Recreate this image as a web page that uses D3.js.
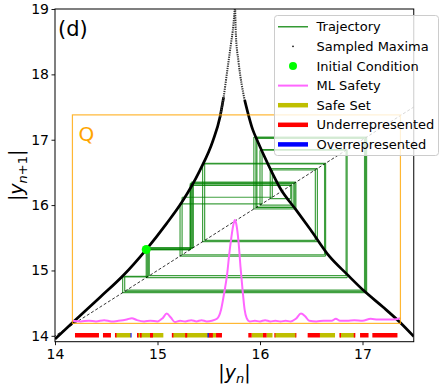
<!DOCTYPE html>
<html>
<head>
<meta charset="utf-8">
<script src="https://cdn.jsdelivr.net/npm/d3@7"></script>
<style>
  body { margin: 0; background: #fff; }
  svg { font-family: "DejaVu Sans", sans-serif; }
</style>
</head>
<body>
<div id="chart"></div>
<script>
// sampled maxima as (|y_n|, |y_n+1|)
const leftBranch = [[14.0,13.95],[14.17,14.2],[14.44,14.59],[14.67,14.93],[14.89,15.32],[15.09,15.72],[15.24,16.05],[15.41,16.52],[15.54,16.98],[15.61,17.35],[15.645,17.65],[15.68,18.05],[15.715,18.45],[15.74,18.75],[15.756,19.05]]
const rightBranch = [[15.757,19.05],[15.765,18.6],[15.79,18.2],[15.85,17.61],[15.93,17.15],[15.97,17.0],[16.08,16.62],[16.2,16.25],[16.35,15.93],[16.49,15.63],[16.68,15.21],[16.85,14.94],[17.02,14.68],[17.2,14.44],[17.37,14.2],[17.5,13.99]]

// trajectory iterates |y_0|, |y_1|, ...
const trajectory = [14.89, 15.32, 16.33, 15.97, 17.03, 14.68, 14.91, 15.34, 16.30, 16.10, 16.56, 15.44, 16.63, 15.24, 16.12, 16.54, 15.46, 16.64, 15.22, 16.02, 16.85, 14.89, 15.33, 16.35, 15.94, 17.04, 14.66, 14.90, 15.32, 16.31, 16.00, 16.84, 14.92, 15.35, 16.34, 15.96, 17.02, 14.70]
const initialCondition = [14.89, 15.32]

// ML safety curve
const mlX = [14.17,14.25,14.33,14.40,14.48,14.55,14.62,14.70,14.75,14.80,14.87,14.93,15.00,15.05,15.09,15.13,15.17,15.22,15.27,15.33,15.38,15.43,15.48,15.53,15.58,15.62,15.65,15.68,15.70,15.72,15.74,15.755,15.77,15.79,15.81,15.83,15.85,15.87,15.90,15.95,16.00,16.05,16.10,16.15,16.20,16.25,16.30,16.35,16.40,16.44,16.48,16.55,16.62,16.70,16.74,16.78,16.85,16.92,17.00,17.08,17.15,17.22,17.30,17.37]
const mlY = [14.23,14.22,14.23,14.22,14.24,14.22,14.23,14.25,14.27,14.24,14.22,14.23,14.22,14.27,14.34,14.28,14.21,14.23,14.22,14.24,14.22,14.24,14.22,14.23,14.26,14.40,14.65,14.95,15.25,15.50,15.70,15.77,15.70,15.45,15.05,14.70,14.40,14.27,14.22,14.23,14.22,14.24,14.22,14.23,14.22,14.23,14.22,14.26,14.34,14.30,14.23,14.22,14.23,14.23,14.26,14.23,14.23,14.24,14.23,14.26,14.25,14.25,14.25,14.27]

// interval bars drawn at |y_n+1| = 14
const safeSet = [[14.595,14.741],[14.807,15.057],[15.148,15.571],[15.919,16.029],[16.065,16.122],[16.146,16.351],[16.585,16.732],[16.78,16.927]]
const underRep = [[14.195,14.429],[14.468,14.546],[14.585,14.60],[14.80,14.815],[14.83,14.845],[14.927,14.956],[15.14,15.155],[15.27,15.29],[15.50,15.54],[15.571,15.629],[15.886,15.919],[16.029,16.065],[16.14,16.15],[16.345,16.355],[16.465,16.585],[16.775,16.79],[16.915,16.93],[16.976,17.059],[17.096,17.341]]
const overRep = [[14.737,14.747],[15.488,15.50]]
const barLevel = 14.01

const qBox = [14.17, 17.37, 14.19, 17.38]
const xTicks = [14, 15, 16, 17]
const yTicks = [14, 15, 16, 17, 18, 19]

const width = 440
const height = 392
const margin = {top: 9, right: 26.25, bottom: 50.3, left: 55}
const innerW = width - margin.left - margin.right
const innerH = height - margin.top - margin.bottom

const xScale = d3.scaleLinear().domain([14, 17.5]).range([0, innerW])
const yScale = d3.scaleLinear().domain([13.91, 19]).range([innerH, 0])

const svg = d3.select("#chart")
  .append("svg")
    .attr("width", width)
    .attr("height", height)

const g = svg.append("g")
    .attr("transform", "translate(" + margin.left + "," + margin.top + ")")

g.append("defs").append("clipPath")
    .attr("id", "clip")
  .append("rect")
    .attr("width", innerW)
    .attr("height", innerH)

const plot = g.append("g").attr("clip-path", "url(#clip)")

const line = d3.line().x(d => xScale(d[0])).y(d => yScale(d[1]))
const smooth = d3.line().curve(d3.curveMonotoneX).x(d => xScale(d[0])).y(d => yScale(d[1]))

// cobweb segments from the trajectory
const cobweb = []
for (let i = 0; i < trajectory.length - 1; i++) {
  const a = trajectory[i], b = trajectory[i + 1]
  if (i > 0) cobweb.push([[a, a], [a, b]])
  cobweb.push([[a, b], [b, b]])
}
plot.selectAll(".traj")
  .data(cobweb)
  .enter().append("path")
    .attr("class", "traj")
    .attr("d", line)
    .attr("fill", "none")
    .attr("stroke", "green")
    .attr("stroke-opacity", 0.75)
    .attr("stroke-width", 1.2)

// sampled maxima: dense lower part, sparse near the cusp
const split = 17.3
;[leftBranch, rightBranch].forEach(br => {
  plot.append("path")
    .attr("d", smooth(br.filter(d => d[1] <= split + 0.4)))
    .attr("fill", "none")
    .attr("stroke", "black")
    .attr("stroke-width", 2.7)
  plot.append("path")
    .attr("d", smooth(br.filter(d => d[1] >= split)))
    .attr("fill", "none")
    .attr("stroke", "#333")
    .attr("stroke-width", 2)
    .attr("stroke-dasharray", "1.3,1")
})

// y = x
plot.append("path")
  .attr("d", line([[13.9, 13.9], [17.6, 17.6]]))
  .attr("stroke", "black")
  .attr("stroke-width", 0.8)
  .attr("stroke-dasharray", "3,2")

plot.append("circle")
  .attr("cx", xScale(initialCondition[0]))
  .attr("cy", yScale(initialCondition[1]))
  .attr("r", 4.5)
  .attr("fill", "#00ff00")

plot.append("path")
  .attr("d", smooth(mlX.map((x, i) => [x, mlY[i]])))
  .attr("fill", "none")
  .attr("stroke", "#ff66ff")
  .attr("stroke-width", 2)

const bars = [[safeSet, "#bfbf00"], [underRep, "red"], [overRep, "blue"]]
bars.forEach(([set, col]) => {
  plot.selectAll(null)
    .data(set)
    .enter().append("line")
      .attr("x1", d => xScale(d[0]))
      .attr("x2", d => xScale(d[1]))
      .attr("y1", yScale(barLevel))
      .attr("y2", yScale(barLevel))
      .attr("stroke", col)
      .attr("stroke-width", 4.5)
})

// region Q
plot.append("rect")
  .attr("x", xScale(qBox[0]))
  .attr("y", yScale(qBox[3]))
  .attr("width", xScale(qBox[1]) - xScale(qBox[0]))
  .attr("height", yScale(qBox[2]) - yScale(qBox[3]))
  .attr("fill", "none")
  .attr("stroke", "orange")
  .attr("stroke-opacity", 0.8)
  .attr("stroke-width", 1.2)

g.append("text")
  .attr("x", xScale(qBox[0]) + 6)
  .attr("y", yScale(qBox[3]) + 26.5)
  .attr("fill", "orange")
  .style("font-size", "20px")
  .text("Q")

// axes
const xAxis = g.append("g")
  .attr("transform", "translate(0," + innerH + ")")
  .call(d3.axisBottom(xScale).tickValues(xTicks).tickFormat(d3.format("d")).tickSize(3.5).tickPadding(3.5))
const yAxis = g.append("g")
  .call(d3.axisLeft(yScale).tickValues(yTicks).tickFormat(d3.format("d")).tickSize(3.5).tickPadding(2.5))
;[xAxis, yAxis].forEach(ax => {
  ax.select(".domain").remove()
  ax.selectAll("text").style("font-size", "14px").attr("fill", "black").style("font-family", "DejaVu Sans")
  ax.selectAll("line").attr("stroke", "black").attr("stroke-width", 0.9)
})

g.append("rect")
  .attr("width", innerW)
  .attr("height", innerH)
  .attr("fill", "none")
  .attr("stroke", "black")
  .attr("stroke-width", 1)

g.append("text")
  .attr("x", 3)
  .attr("y", 27)
  .style("font-size", "21px")
  .text("(d)")

// axis labels
const xl = svg.append("text")
  .attr("x", margin.left + innerW / 2)
  .attr("y", 379)
  .attr("text-anchor", "middle")
  .style("font-size", "19px")
xl.append("tspan").text("|")
xl.append("tspan").style("font-style", "italic").text("y")
xl.append("tspan").style("font-style", "italic").style("font-size", "13px").attr("dy", 4).text("n")
xl.append("tspan").attr("dy", -4).text("|")

const yl = svg.append("text")
  .attr("transform", "translate(23," + (margin.top + innerH / 2) + ") rotate(-90)")
  .attr("text-anchor", "middle")
  .style("font-size", "19px")
yl.append("tspan").text("|")
yl.append("tspan").style("font-style", "italic").text("y")
const sub = yl.append("tspan").style("font-size", "13px").attr("dy", 4)
sub.append("tspan").style("font-style", "italic").text("n")
sub.append("tspan").text("+1")
yl.append("tspan").attr("dy", -4).text("|")

// legend
const legendItems = [
  {label: "Trajectory", type: "line", color: "green", w: 1.2},
  {label: "Sampled Maxima", type: "dot", color: "black", r: 0.8},
  {label: "Initial Condition", type: "dot", color: "#00ff00", r: 4},
  {label: "ML Safety", type: "line", color: "#ff66ff", w: 2},
  {label: "Safe Set", type: "line", color: "#bfbf00", w: 4.5},
  {label: "Underrepresented", type: "line", color: "red", w: 4.5},
  {label: "Overrepresented", type: "line", color: "blue", w: 4.5}
]
const legend = svg.append("g").attr("transform", "translate(274.5,15.5)")
legend.append("rect")
  .attr("width", 164)
  .attr("height", 140)
  .attr("rx", 3)
  .attr("fill", "white")
  .attr("fill-opacity", 0.8)
  .attr("stroke", "#cccccc")
  .attr("stroke-width", 1)
legendItems.forEach((d, i) => {
  const yy = 11.3 + i * 19.6
  if (d.type === "line") {
    legend.append("line")
      .attr("x1", 3.5).attr("x2", 33.5)
      .attr("y1", yy).attr("y2", yy)
      .attr("stroke", d.color)
      .attr("stroke-width", d.w)
  } else {
    legend.append("circle")
      .attr("cx", 18.5).attr("cy", yy)
      .attr("r", d.r)
      .attr("fill", d.color)
  }
  legend.append("text")
    .attr("x", 42)
    .attr("y", yy)
    .attr("dy", "0.36em")
    .style("font-size", "13px")
    .text(d.label)
})
</script>
</body>
</html>
